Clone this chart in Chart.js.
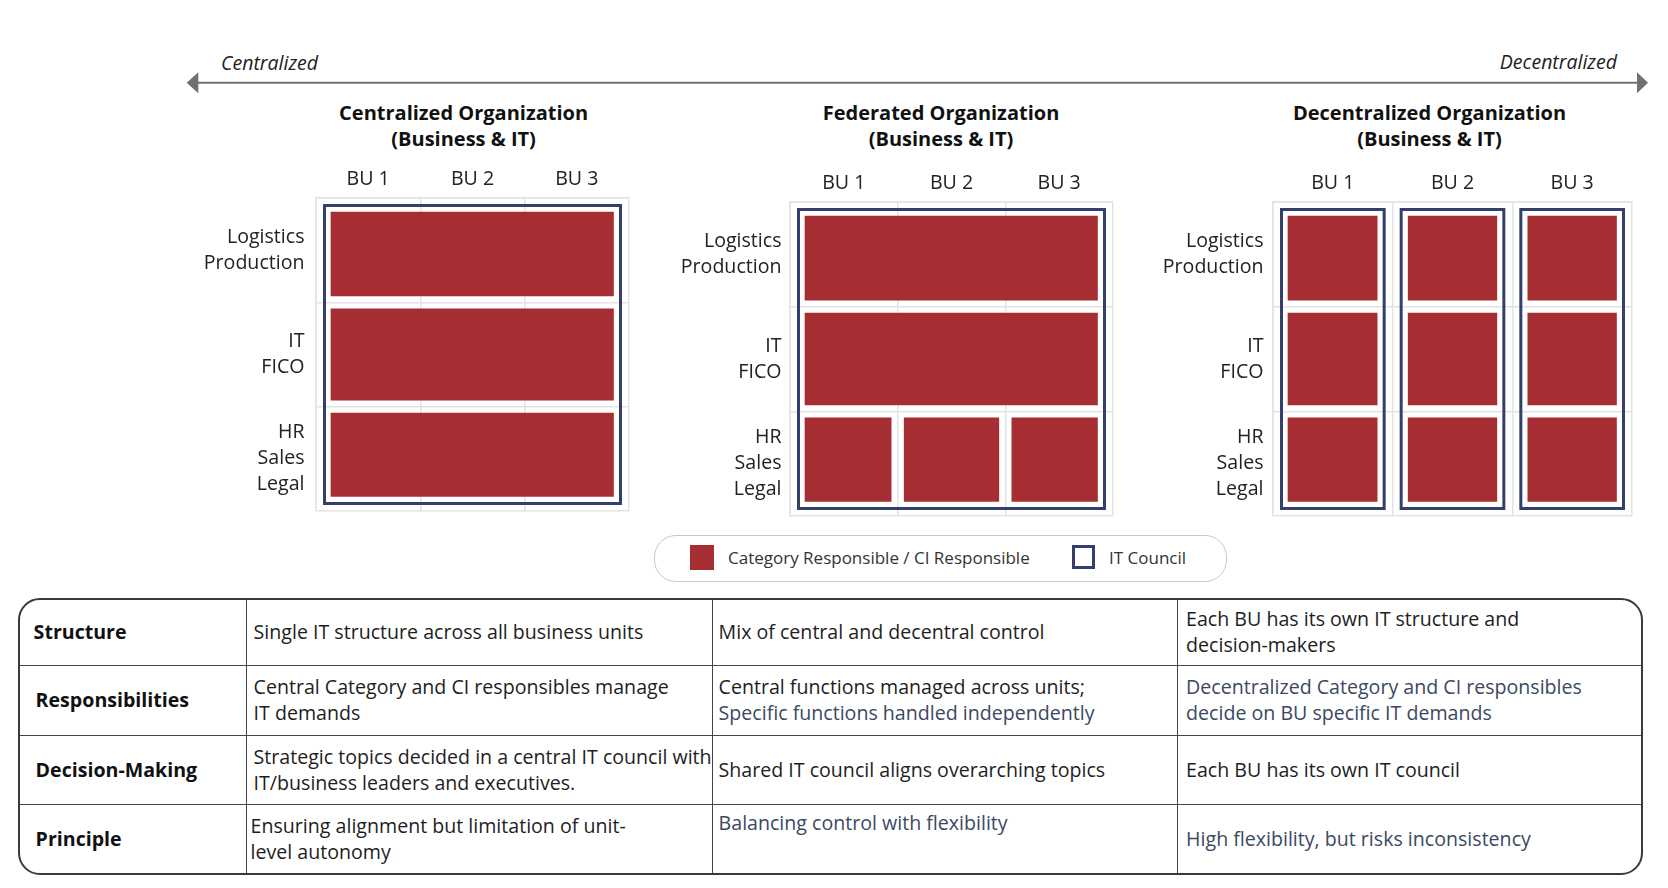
<!DOCTYPE html>
<html>
<head>
<meta charset="utf-8">
<title>IT Governance Models</title>
<script src="https://cdn.jsdelivr.net/npm/chart.js@4.4.1/dist/chart.umd.min.js"></script>
<style>
  body { margin: 0; background: #fff; font-family: 'Open Sans', sans-serif; color: #222; }
  #page { position: relative; width: 1668px; height: 888px; overflow: hidden; }
  .abs { position: absolute; white-space: nowrap; line-height: normal; }
  .axis-label { font-style: italic; font-size: 19.5px; color: #222; }
  .title { width: 400px; text-align: center; font-weight: 700; font-size: 20px; line-height: 26.3px; color: #111; }
  canvas.panel { position: absolute; }

  #legend { position: absolute; left: 654px; top: 534.5px; width: 573px; height: 47.5px; box-sizing: border-box;
            border: 1.5px solid #c9c9c9; border-radius: 22px; font-size: 17px; color: #333; }
  #legend .sw { position: absolute; box-sizing: border-box; }
  #legend .txt { position: absolute; top: 0; height: 44.5px; display: flex; align-items: center; white-space: nowrap; }

  #table { position: absolute; left: 17.6px; top: 597.7px; width: 1625px; height: 277.3px; box-sizing: border-box;
           border: 2px solid #3a3a3a; border-radius: 22px; overflow: hidden;
           display: grid; grid-template-columns: 227px 466px 465px 1fr; grid-template-rows: 66px 70px 69px 1fr; }
  #table .cell { box-sizing: border-box; border-right: 1.5px solid #444; border-bottom: 1.5px solid #444;
                 display: flex; align-items: center; font-size: 19.6px; line-height: 26px; white-space: nowrap;
                 padding-left: 7px; color: #1e1e1e; overflow: visible; }
  #table .cell.last-col { border-right: none; }
  #table .cell.last-row { border-bottom: none; }
  #table .cell.head { font-weight: 700; padding-left: 14px; color: #111; }
  #table .soft { color: #3b4863; }
</style>
</head>
<body>
<div id="page">
  <!-- centralized / decentralized axis -->
  <svg class="abs" style="left:0;top:0" width="1668" height="120">
    <line x1="196" y1="82.7" x2="1639" y2="82.7" stroke="#707070" stroke-width="2"/>
    <polygon points="186.7,82.7 198.3,72.3 198.3,93.3" fill="#707070"/>
    <polygon points="1648,82.7 1637,72.3 1637,93.3" fill="#707070"/>
  </svg>
  <div class="abs axis-label" style="left:221px; top:49.2px">Centralized</div>
  <div class="abs axis-label" style="right:51px; top:48.2px">Decentralized</div>

  <div class="abs title" style="left:263.6px; top:100px">Centralized Organization<br>(Business &amp; IT)</div>
  <div class="abs title" style="left:741px; top:100px">Federated Organization<br>(Business &amp; IT)</div>
  <div class="abs title" style="left:1229.5px; top:100px">Decentralized Organization<br>(Business &amp; IT)</div>

  <canvas id="centralChart" class="panel" width="477" height="357" style="left:156px; top:158px"></canvas>
  <canvas id="federatedChart" class="panel" width="487" height="358" style="left:630px; top:162px"></canvas>
  <canvas id="decentralChart" class="panel" width="523" height="358" style="left:1113px; top:162px"></canvas>

  <div id="legend">
    <div class="sw" style="left:34.5px; top:9px; width:24.5px; height:25px; background:#a62e33"></div>
    <div class="txt" style="left:73px">Category Responsible / CI Responsible</div>
    <div class="sw" style="left:416.5px; top:9.5px; width:23.5px; height:24px; border:3px solid #343f6b"></div>
    <div class="txt" style="left:454px">IT Council</div>
  </div>

  <div id="table"></div>
</div>

<script>
// Achsen / Kategorien
const buLabels = ['BU 1', 'BU 2', 'BU 3'];
const functionLabels = [['Logistics', 'Production'], ['IT', 'FICO'], ['HR', 'Sales', 'Legal']];
const rowKeys = functionLabels.map(l => l.join(' / '));

// rote Blöcke: [Zeile, von BU, bis BU]
const centralizedCells = [[0, 0, 3], [1, 0, 3], [2, 0, 3]];
const federatedCells = [[0, 0, 3], [1, 0, 3], [2, 0, 1], [2, 1, 2], [2, 2, 3]];
const decentralizedCells = [
  [0, 0, 1], [0, 1, 2], [0, 2, 3],
  [1, 0, 1], [1, 1, 2], [1, 2, 3],
  [2, 0, 1], [2, 1, 2], [2, 2, 3]
];

// IT Council Rahmen: [von BU, bis BU]
const centralizedCouncils = [[0, 3]];
const federatedCouncils = [[0, 3]];
const decentralizedCouncils = [[0, 1], [1, 2], [2, 3]];

// Tabelle
const tableHeads = ['Structure', 'Responsibilities', 'Decision-Making', 'Principle'];
const centralizedText = [
  'Single IT structure across all business units',
  'Central Category and CI responsibles manage<br>IT demands',
  'Strategic topics decided in a central IT council with<br>IT/business leaders and executives.',
  'Ensuring alignment but limitation of unit-<br>level autonomy'
];
const federatedText = [
  'Mix of central and decentral control',
  'Central functions managed across units;<br><span class="soft">Specific functions handled independently</span>',
  'Shared IT council aligns overarching topics',
  '<span class="soft">Balancing control with flexibility</span>'
];
const decentralizedText = [
  'Each BU has its own IT structure and<br>decision-makers',
  '<span class="soft">Decentralized Category and CI responsibles<br>decide on BU specific IT demands</span>',
  'Each BU has its own IT council',
  '<span class="soft">High flexibility, but risks inconsistency</span>'
];

const RED = '#a62e33';
const NAVY = '#343f6b';
const GRID = '#e3e3e3';

Chart.defaults.font.family = "'Open Sans', sans-serif";
Chart.defaults.color = '#222';

const panels = [
  { canvas: 'centralChart', cells: centralizedCells, councils: centralizedCouncils, gapX: 6.5, labelPad: 11.5 },
  { canvas: 'federatedChart', cells: federatedCells, councils: federatedCouncils, gapX: 6.5, labelPad: 8.5 },
  { canvas: 'decentralChart', cells: decentralizedCells, councils: decentralizedCouncils, gapX: 15.5, labelPad: 9.5 }
];

// zeichnet die IT-Council-Rahmen über die x-Skala
const councilPlugin = {
  id: 'councils',
  afterDatasetsDraw(chart, args, opts) {
    const { ctx, chartArea, scales } = chart;
    const lw = 3, insetX = 7, insetY = 6;
    ctx.save();
    ctx.strokeStyle = NAVY;
    ctx.lineWidth = lw;
    opts.frames.forEach(([from, to]) => {
      const l = scales.x.getPixelForValue(from) + insetX + lw / 2;
      const r = scales.x.getPixelForValue(to) - insetX - lw / 2;
      const t = chartArea.top + insetY + lw / 2;
      const b = chartArea.bottom - insetY - lw / 2;
      ctx.strokeRect(l, t, r - l, b - t);
    });
    ctx.restore();
  }
};

function gridOpts() {
  return { offset: true, color: GRID, lineWidth: 1.5, drawTicks: false };
}

// Achsen sollen nicht über den Zeichenbereich hinaus Platz reservieren
function noOverflow(size, key) {
  return s => {
    s[key] = size;
    s.paddingTop = 0; s.paddingBottom = 0;
    s.paddingLeft = 0; s.paddingRight = 0;
  };
}

function buildPanel(p) {
  const lastRow = functionLabels.length - 1;
  new Chart(document.getElementById(p.canvas), {
    type: 'bar',
    data: {
      labels: rowKeys,
      datasets: [{
        data: p.cells.map(([row, from, to]) => ({ x: [from, to], y: rowKeys[row], row })),
        backgroundColor: RED,
        borderColor: 'rgba(0,0,0,0)',
        borderSkipped: false,
        borderWidth: ctx => {
          const r = ctx.raw;
          if (!r) return 0;
          return {
            top: r.row === 0 ? 14 : 6.5,
            bottom: r.row === lastRow ? 14.5 : 6.5,
            left: r.x[0] === 0 ? 15 : p.gapX,
            right: r.x[1] === buLabels.length ? 15.5 : p.gapX
          };
        },
        categoryPercentage: 1,
        barPercentage: 1
      }]
    },
    options: {
      indexAxis: 'y',
      responsive: false,
      animation: false,
      events: [],
      layout: { padding: { top: 0, left: 0, right: 4, bottom: 4 } },
      plugins: {
        legend: { display: false },
        tooltip: { enabled: false },
        councils: { frames: p.councils }
      },
      scales: {
        x: { type: 'linear', min: 0, max: buLabels.length, display: false },
        xTop: {
          type: 'category',
          labels: buLabels,
          position: 'top',
          offset: true,
          grid: gridOpts(),
          border: { display: true, color: GRID, width: 1.5 },
          ticks: { font: { size: 19.6 }, color: '#222', padding: 7, maxRotation: 0, autoSkip: false },
          afterFit: noOverflow(40, 'height')
        },
        y: {
          type: 'category',
          offset: true,
          grid: gridOpts(),
          border: { display: true, color: GRID, width: 1.5 },
          ticks: {
            font: { size: 19.6, lineHeight: 1.33 },
            color: '#222',
            padding: p.labelPad,
            autoSkip: false,
            callback: (value, index) => functionLabels[index]
          },
          afterFit: noOverflow(160, 'width')
        }
      }
    },
    plugins: [councilPlugin]
  });
}

function buildTable() {
  const el = document.getElementById('table');
  const cols = [tableHeads, centralizedText, federatedText, decentralizedText];
  let html = '';
  for (let r = 0; r < tableHeads.length; r++) {
    cols.forEach((col, c) => {
      let cls = 'cell';
      let style = '';
      if (c === 0) cls += ' head';
      if (c === cols.length - 1) cls += ' last-col';
      if (r === tableHeads.length - 1) cls += ' last-row';
      if (c === 0 && r > 0) style += 'padding-left:16px;';
      if (c === 2) style += 'padding-left:6px;';
      if (c === 3) style += 'padding-left:8.5px;';
      if (c === 1 && r === 3) style += 'padding-left:4px;';
      if (c === 2 && r === 3) style += 'align-items:flex-start;padding-top:5px;';
      html += `<div class="${cls}" style="${style}"><div>${col[r]}</div></div>`;
    });
  }
  el.innerHTML = html;
}

panels.forEach(buildPanel);
buildTable();
</script>
</body>
</html>
